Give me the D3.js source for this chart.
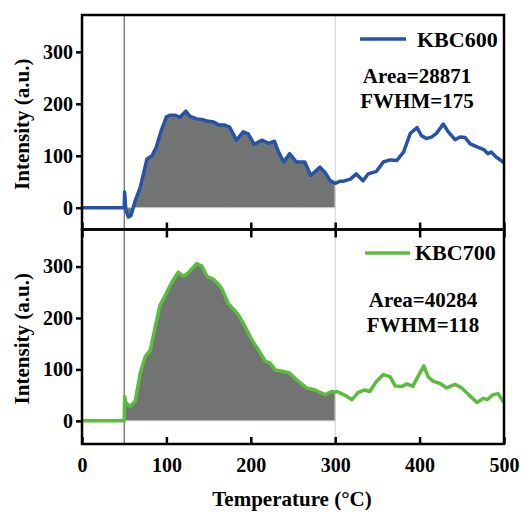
<!DOCTYPE html>
<html><head><meta charset="utf-8">
<script src="https://cdn.jsdelivr.net/npm/d3@7"></script>
<style>body{margin:0;background:#fff}text{font-family:"Liberation Serif","Times New Roman","DejaVu Serif",serif;font-weight:bold;fill:#000}</style>
</head><body>
<script>
const xTicks = [0, 100, 200, 300, 400, 500];
const yTicks = [0, 100, 200, 300];
const kbc600T = [0, 50, 50.5, 52, 55, 58, 63, 69, 77, 83, 88, 94, 100, 104, 110, 116, 123, 128, 136, 142, 148, 156, 162, 169, 175, 183, 191, 197, 204, 213, 221, 228, 233, 239, 246, 254, 264, 271, 282, 288, 294, 300, 306, 310, 318, 325, 333, 339, 349, 357, 365, 373, 381, 389, 397, 402, 408, 414, 420, 428, 434, 442, 448, 454, 460, 468, 476, 481, 485, 491, 499, 500];
const kbc600V = [0, 0, 30, -5, -18, -15, 13, 39, 94, 100, 117, 149, 175, 178, 178, 174, 186, 176, 171, 170, 167, 165, 159, 159, 155, 130, 146, 142, 122, 130, 124, 128, 107, 88, 104, 88, 88, 62, 78, 68, 52, 47, 51, 51, 55, 65, 52, 65, 70, 88, 92, 91, 107, 143, 154, 139, 133, 136, 143, 161, 146, 131, 136, 135, 123, 117, 112, 104, 107, 97, 88, 85];
const kbc700T = [0, 50, 50.5, 52, 57, 63, 69, 75, 81, 86, 92, 98, 106, 114, 120, 126, 136, 142, 148, 156, 165, 173, 185, 193, 201, 209, 217, 223, 229, 239, 246, 254, 266, 276, 288, 296, 300, 302, 310, 320, 327, 335, 341, 349, 357, 365, 371, 379, 385, 392, 398, 405, 410, 416, 424, 432, 442, 450, 458, 468, 476, 480, 487, 493, 499, 500];
const kbc700V = [0, 0, 47, 35, 28, 38, 93, 125, 138, 177, 223, 242, 268, 289, 281, 288, 306, 301, 281, 275, 259, 229, 207, 184, 158, 138, 116, 112, 99, 96, 93, 80, 64, 60, 51, 57, 56, 57, 51, 41, 55, 60, 57, 77, 90, 86, 68, 67, 72, 67, 86, 107, 86, 77, 73, 64, 71, 64, 51, 36, 44, 41, 51, 53, 38, 36];
const seriesNames = ["KBC600", "KBC700"];
const areaLabels = ["Area=28871", "Area=40284"];
const fwhmLabels = ["FWHM=175", "FWHM=118"];
const fillRange = [50, 300];

const W = 521, H = 512;
const svg = d3.select("body").append("svg").attr("width", W).attr("height", H);
const x = d3.scaleLinear().domain([0, 500]).range([82, 504]);
const FONT = '"Liberation Serif","Times New Roman","DejaVu Serif",serif';

const panels = [
  {T: kbc600T, V: kbc600V, color: "#2553a8", top: 15, bottom: 229.5, dom: [-42, 371],
   name: seriesNames[0], area: areaLabels[0], fwhm: fwhmLabels[0],
   leg: {x1: 360, x2: 406, y: 39, tx: 417, ty: 47}, ann: {x: 417, y1: 83, y2: 108}, lastAxis: false},
  {T: kbc700T, V: kbc700V, color: "#5bbd3c", top: 229.5, bottom: 444, dom: [-45, 372],
   name: seriesNames[1], area: areaLabels[1], fwhm: fwhmLabels[1],
   leg: {x1: 365, x2: 410, y: 253, tx: 415, ty: 260}, ann: {x: 423, y1: 307, y2: 332}, lastAxis: true}
];

panels.forEach((p, i) => {
  const y = d3.scaleLinear().domain(p.dom).range([p.bottom, p.top]);
  const data = p.T.map((t, k) => ({t, v: p.V[k]}));
  const g = svg.append("g");
  const fillData = data.filter(d => d.t >= fillRange[0] && d.t <= fillRange[1]);
  g.append("path").datum(fillData)
    .attr("d", d3.area().x(d => x(d.t)).y0(y(0)).y1(d => y(d.v)))
    .attr("fill", "#727474").attr("stroke", "#cfcfcf").attr("stroke-width", 1);
  g.append("line").attr("x1", x(50)).attr("x2", x(50)).attr("y1", p.top).attr("y2", p.bottom)
    .attr("stroke", "#444").attr("stroke-width", 1);
  g.append("line").attr("x1", x(300)).attr("x2", x(300)).attr("y1", p.top).attr("y2", p.bottom)
    .attr("stroke", "#cfcfcf").attr("stroke-width", 1);
  g.append("path").datum(data)
    .attr("d", d3.line().x(d => x(d.t)).y(d => y(d.v)))
    .attr("fill", "none").attr("stroke", p.color).attr("stroke-width", 3.5).attr("stroke-linejoin", "round");
  const ya = g.append("g").attr("transform", `translate(${x(0)},0)`)
    .call(d3.axisLeft(y).tickValues(yTicks).tickSize(6).tickPadding(3));
  ya.select(".domain").remove();
  ya.attr("font-family", null).attr("font-size", null);
  ya.selectAll("line").attr("stroke", "#000").attr("stroke-width", 2.5);
  ya.selectAll("text").style("font-size", "20px").style("font-family", FONT).style("font-weight", "bold");
  const xb = g.append("g").attr("transform", `translate(0,${p.bottom})`)
    .call(d3.axisBottom(x).tickValues(xTicks).tickSize(-7).tickPadding(14));
  xb.select(".domain").remove();
  xb.attr("font-family", null).attr("font-size", null);
  xb.selectAll("line").attr("stroke", "#000").attr("stroke-width", 2.5);
  if (p.lastAxis) {
    xb.selectAll("text").style("font-size", "20px").style("font-family", FONT).style("font-weight", "bold");
    const xt = g.append("g").attr("transform", `translate(0,${p.top})`)
      .call(d3.axisTop(x).tickValues(xTicks).tickSize(-8).tickFormat(""));
    xt.select(".domain").remove();
    xt.selectAll("line").attr("stroke", "#000").attr("stroke-width", 2.5);
  } else {
    xb.selectAll("text").remove();
  }
  g.append("rect").attr("x", x(0)).attr("y", p.top).attr("width", x(500) - x(0)).attr("height", p.bottom - p.top)
    .attr("fill", "none").attr("stroke", "#000").attr("stroke-width", 2.5);
  g.append("text").attr("transform", `translate(29,${(p.top + p.bottom) / 2 + 2}) rotate(-90)`)
    .attr("text-anchor", "middle").style("font-size", "21px").text("Intensity (a.u.)");
  g.append("line").attr("x1", p.leg.x1).attr("x2", p.leg.x2).attr("y1", p.leg.y).attr("y2", p.leg.y)
    .attr("stroke", p.color).attr("stroke-width", 3.5);
  g.append("text").attr("x", p.leg.tx).attr("y", p.leg.ty).style("font-size", "22px").text(p.name);
  g.append("text").attr("x", p.ann.x).attr("y", p.ann.y1).attr("text-anchor", "middle").style("font-size", "21px").text(p.area);
  g.append("text").attr("x", p.ann.x).attr("y", p.ann.y2).attr("text-anchor", "middle").style("font-size", "21px").text(p.fwhm);
});

svg.append("text").attr("x", 292).attr("y", 506).attr("text-anchor", "middle")
  .style("font-size", "21px").text("Temperature (°C)");
</script>
</body></html>
